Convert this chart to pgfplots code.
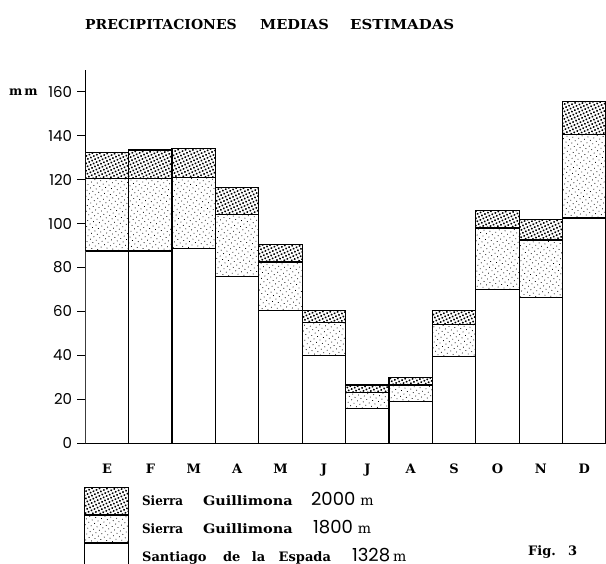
\documentclass[border=0pt]{standalone}
\usepackage{pgfplots}
\pgfplotsset{compat=1.18}
\usepackage{graphicx}
\usepackage{fontspec}
\setmainfont{DejaVu Serif}
\newfontfamily\poppins{Poppins}
\usetikzlibrary{patterns.meta}
\newcommand\lab{\fontsize{13}{15}\selectfont\bfseries}
\newcommand\num{\poppins\mdseries\fontsize{18}{20}\selectfont}
\newcommand\unit{\mdseries\fontsize{14}{16}\selectfont m}
\newcommand\ttl{\fontsize{13.7}{16}\selectfont\bfseries}
\begin{document}
\begin{tikzpicture}[x=1pt,y=1pt]
\useasboundingbox (0,0) rectangle (606,564);
\node[anchor=base west,inner sep=0pt] at (85,534) {\ttl\resizebox{151.6pt}{\height}{PRECIPITACIONES}};
\node[anchor=base west,inner sep=0pt] at (260,534) {\ttl\resizebox{68.6pt}{\height}{MEDIAS}};
\node[anchor=base west,inner sep=0pt] at (350,534) {\ttl\resizebox{104pt}{\height}{ESTIMADAS}};
\node[anchor=base west,inner sep=0pt] at (9,468.5) {\fontsize{12.5}{14}\selectfont\bfseries m\kern2pt m};
\node[anchor=base west,inner sep=0pt] at (528,8) {\lab\makebox[40pt][l]{Fig.}3};
\begin{axis}[
  at={(85.3pt,120.7pt)}, anchor=south west,
  scale only axis, width=520.7pt, height=373.6pt,
  xmin=-0.5, xmax=11.5, ymin=0, ymax=170,
  axis x line=bottom, axis y line=left,
  axis line style={-, line width=1.2pt},
  ybar, bar width=1, /pgf/bar shift=0pt,
  ytick={0,20,...,160},
  xtick={0,...,11},
  xticklabels={E,F,M,A,M,J,J,A,S,O,N,D},
  xtick style={draw=none},
  tick align=outside,
  major tick length=8pt,
  ytick style={line width=1.2pt, black},
  /pgf/number format/assume math mode=true,
  yticklabel style={font=\poppins\fontsize{15}{15}\selectfont, anchor=east, inner sep=0pt, xshift=-5pt},
  xticklabel style={font=\fontsize{13}{15}\selectfont\bfseries, anchor=base, inner sep=0pt, yshift=-22pt},
  legend style={at={(-0.003,-0.116)}, anchor=north west, draw=none, fill=none, inner sep=0pt,
    row sep=0pt, column sep=0pt, nodes={inner sep=0pt, anchor=west}},
  legend cell align=left,
  legend image code/.code={\draw[#1, line width=1.2pt] (0pt,-13.5pt) rectangle (44pt,13.5pt);},
]
\addplot[draw=black, line width=1.2pt, fill=white, postaction={pattern={Dots[distance=3.3pt,radius=1.1pt,angle=25]}}]
 coordinates {(0,132.5)(1,133.5)(2,134)(3,116.5)(4,90.5)(5,60.5)(6,26.5)(7,30)(8,60.5)(9,106)(10,102)(11,155.5)};
\addlegendentry{\raisebox{2.5pt}{\hspace{13pt}\lab\makebox[61pt][l]{\resizebox{41pt}{\height}{Sierra}}\makebox[108pt][l]{\resizebox{89.5pt}{\height}{Guillimona}}{\num 2000}\hspace{5pt}\unit}}
\addplot[draw=black, line width=1.2pt, fill=white, postaction={pattern={Dots[distance=4.2pt,radius=0.55pt,angle=35]}}]
 coordinates {(0,120.5)(1,120.5)(2,121)(3,104)(4,82.5)(5,55)(6,23)(7,26.5)(8,54)(9,98)(10,92.5)(11,140.5)};
\addlegendentry{\raisebox{2.5pt}{\hspace{13pt}\lab\makebox[61pt][l]{\resizebox{41pt}{\height}{Sierra}}\makebox[110pt][l]{\resizebox{89.5pt}{\height}{Guillimona}}{\num 1800}\hspace{5pt}\unit}}
\addplot[draw=black, line width=1.2pt, fill=white]
 coordinates {(0,87.5)(1,87.5)(2,88.5)(3,76)(4,60.5)(5,40)(6,16)(7,19)(8,39.5)(9,70)(10,66.5)(11,102.5)};
\addlegendentry{\raisebox{4pt}{\hspace{13pt}\lab\makebox[81pt][l]{Santiago}\makebox[28.8pt][l]{de}\makebox[26.8pt][l]{la}\makebox[73.4pt][l]{Espada}{\num 1328}\hspace{3pt}\unit}}
\end{axis}
\end{tikzpicture}
\end{document}
